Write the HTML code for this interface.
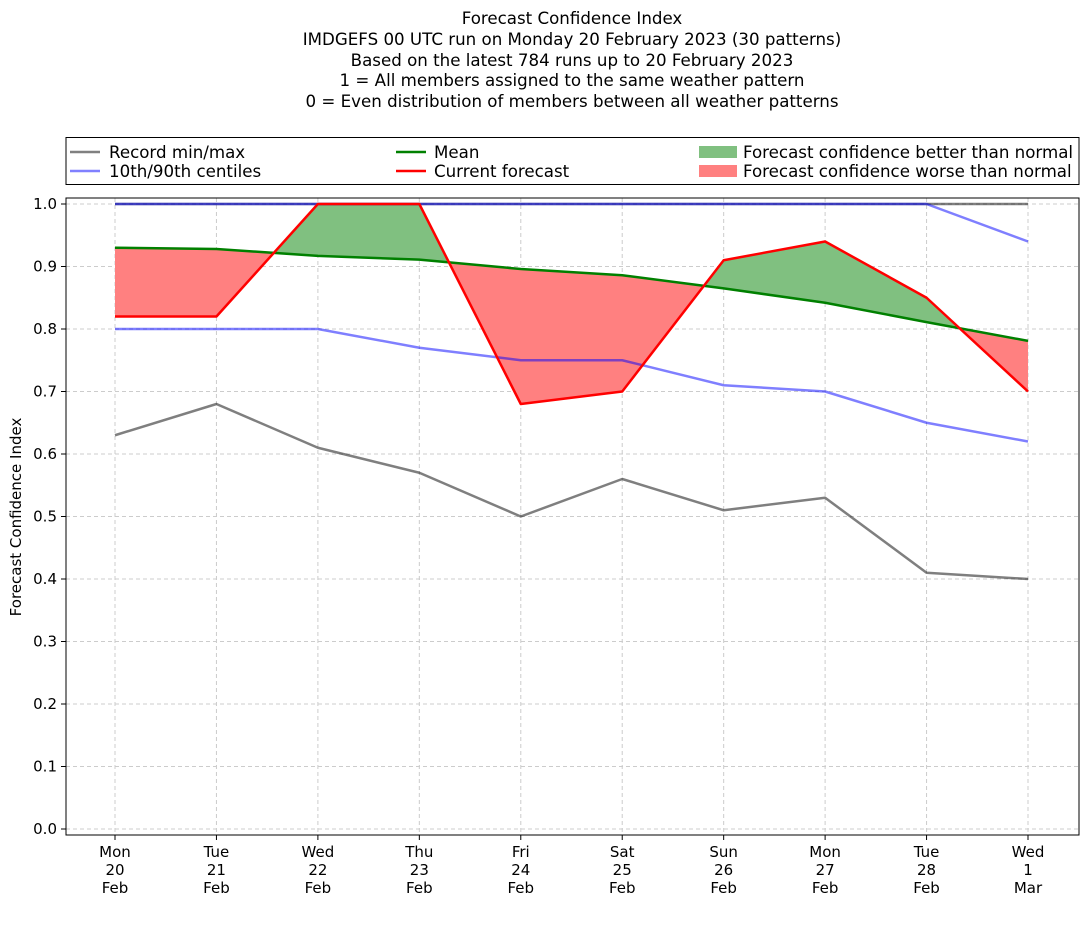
<!DOCTYPE html>
<html><head><meta charset="utf-8"><style>
body{margin:0;background:#fff}
svg text{font-family:"DejaVu Sans","Liberation Sans",sans-serif;fill:#000}
</style></head><body>
<svg id="s" width="1092" height="924" xmlns="http://www.w3.org/2000/svg">
<g font-size="16.67" text-anchor="middle">
<text x="572" y="24">Forecast Confidence Index</text>
<text x="572" y="45">IMDGEFS 00 UTC run on Monday 20 February 2023 (30 patterns)</text>
<text x="572" y="66">Based on the latest 784 runs up to 20 February 2023</text>
<text x="572" y="86">1 = All members assigned to the same weather pattern</text>
<text x="572" y="107">0 = Even distribution of members between all weather patterns</text>
</g>
<g id="plot"></g>
<rect x="66" y="198" width="1013" height="637" fill="none" stroke="#000" stroke-width="1"/>
<rect x="66" y="137.5" width="1013" height="47" fill="#fff" stroke="#000" stroke-width="1"/>
<g font-size="16.67">
<line x1="70" y1="152" x2="100" y2="152" stroke="#808080" stroke-width="2.5"/><text x="109" y="158">Record min/max</text>
<line x1="70" y1="171" x2="100" y2="171" stroke="#8080ff" stroke-width="2.5"/><text x="109" y="177">10th/90th centiles</text>
<line x1="396" y1="152" x2="426" y2="152" stroke="#008000" stroke-width="2.5"/><text x="434" y="158">Mean</text>
<line x1="396" y1="171" x2="426" y2="171" stroke="#ff0000" stroke-width="2.5"/><text x="434" y="177">Current forecast</text>
<rect x="699" y="146" width="38" height="12" fill="#80c080"/><text x="743" y="158">Forecast confidence better than normal</text>
<rect x="699" y="165" width="38" height="12" fill="#ff8080"/><text x="743" y="177">Forecast confidence worse than normal</text>
</g>
<text transform="translate(21,517) rotate(-90)" font-size="15" text-anchor="middle">Forecast Confidence Index</text>
</svg>
<script>
var X=i=>115+i*913/9, Y=v=>829-v*625;
var g=document.getElementById('plot'),h='';
for(var k=0;k<=10;k++){var y=Y(k/10);h+=`<line x1="66" x2="1079" y1="${y}" y2="${y}" stroke="#ccc" stroke-dasharray="4,3"/><line x1="61" x2="66" y1="${y}" y2="${y}" stroke="#000"/><text x="57" y="${y+5}" font-size="15" text-anchor="end">${(k/10).toFixed(1)}</text>`;}
var d=[["Mon","20","Feb"],["Tue","21","Feb"],["Wed","22","Feb"],["Thu","23","Feb"],["Fri","24","Feb"],["Sat","25","Feb"],["Sun","26","Feb"],["Mon","27","Feb"],["Tue","28","Feb"],["Wed","1","Mar"]];
d.forEach((t,i)=>{var x=X(i);h+=`<line x1="${x}" x2="${x}" y1="198" y2="835" stroke="#ccc" stroke-dasharray="4,3"/><line x1="${x}" x2="${x}" y1="835" y2="840" stroke="#000"/>`;t.forEach((s,j)=>h+=`<text x="${x}" y="${857+j*18}" font-size="15" text-anchor="middle">${s}</text>`);});
var mn=[.63,.68,.61,.57,.50,.56,.51,.53,.41,.40],mx=[1,1,1,1,1,1,1,1,1,1],p90=[1,1,1,1,1,1,1,1,1,.94],p10=[.80,.80,.80,.77,.75,.75,.71,.70,.65,.62],
mean=[.93,.928,.917,.911,.896,.886,.865,.842,.811,.781],cur=[.82,.82,1,1,.68,.70,.91,.94,.85,.70];
var pts=a=>a.map((v,i)=>X(i)+','+Y(v)).join(' ');
var meanPts=pts(mean), poly=pts(cur)+' '+mean.map((v,i)=>X(i)+','+Y(v)).reverse().join(' ');
h+=`<defs><clipPath id="ab"><polygon points="${X(0)},0 ${meanPts} ${X(9)},0"/></clipPath><clipPath id="be"><polygon points="${X(0)},900 ${meanPts} ${X(9)},900"/></clipPath></defs>`;
h+=`<polygon points="${poly}" fill="#80c080" clip-path="url(#ab)"/><polygon points="${poly}" fill="#ff8080" clip-path="url(#be)"/>`;
var L=(a,c,o)=>h+=`<polyline points="${pts(a)}" fill="none" stroke="${c}" stroke-opacity="${o||1}" stroke-width="2.5" stroke-linejoin="round"/>`;
L(mn,'#000',.5);L(mx,'#000',.5);L(p10,'#0000ff',.5);L(p90,'#0000ff',.5);L(mean,'#008000');L(cur,'#ff0000');
g.innerHTML=h;
</script>
</body></html>
